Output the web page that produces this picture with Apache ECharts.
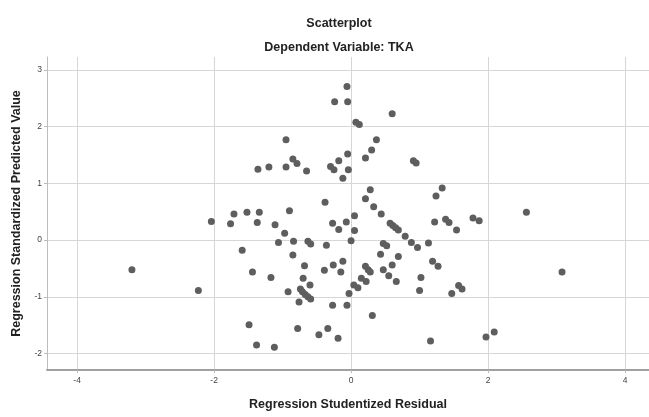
<!DOCTYPE html>
<html>
<head>
<meta charset="utf-8">
<script src="https://cdn.jsdelivr.net/npm/echarts@6/dist/echarts.min.js"></script>
<style>
html,body{margin:0;padding:0;background:#fff;}
#chart{width:649px;height:417px;}
</style>
</head>
<body>
<div id="chart"></div>
<script>
// Regression Studentized Residual (x)
const residual = [
  -3.20, -2.23, -0.38, -1.71, -1.52, -1.34, -0.90, -2.04, -1.76, -1.37,
  -1.11, -0.27, -0.07, -0.18, -0.97, -1.06, -0.84, -0.63, -0.59, -0.36,
   0.00, -1.59, -0.85, -0.68, -0.39, -0.26, -0.12, -0.15, -1.44, -1.17,
  -0.70, -0.60, -0.92, -0.74, -0.71, -0.67, -0.63, -0.59, -0.76, -0.27,
  -0.06, -1.49, -0.78, -0.34, -0.47, -0.19, -1.38, -1.12,
  -0.06, -0.24, -0.05, -0.95, -0.05, -0.85, -0.79, -1.36, -1.20, -0.95,
  -0.65, -0.30, -0.25, -0.04, -0.12, -0.18,
   0.60, 0.07, 0.12, 0.37, 0.30, 0.21, 0.91, 0.95, 0.28, 0.21, 0.33, 0.44, 1.33, 1.24,
   0.05, 0.05, 0.57, 0.61, 0.65, 0.69, 0.79, 0.88, 0.97, 1.13,
   1.22, 1.38, 1.43, 1.54, 1.78, 1.87,
   0.47, 0.52, 0.43, 0.69, 0.60, 0.47, 0.55, 0.66,
   0.21, 0.25, 0.28, 0.15, 0.22, 0.04, 0.10, -0.03, 0.31,
   1.19, 1.27, 1.02, 1.00, 1.57, 1.62, 1.47, 1.16, 1.97, 2.09,
   2.56, 3.08
];
// Regression Standardized Predicted Value (y)
const predicted = [
  -0.52, -0.89, 0.67, 0.46, 0.49, 0.49, 0.52, 0.33, 0.29, 0.31,
   0.27, 0.30, 0.32, 0.19, 0.12, -0.04, -0.02, -0.02, -0.07, -0.09,
  -0.01, -0.18, -0.26, -0.45, -0.53, -0.44, -0.37, -0.56, -0.56, -0.66,
  -0.67, -0.79, -0.91, -0.86, -0.91, -0.96, -1.00, -1.04, -1.09, -1.15,
  -1.15, -1.49, -1.56, -1.56, -1.67, -1.73, -1.85, -1.89,
   2.71, 2.44, 2.44, 1.77, 1.52, 1.43, 1.35, 1.25, 1.29, 1.29,
   1.22, 1.30, 1.24, 1.24, 1.09, 1.40,
   2.23, 2.08, 2.04, 1.77, 1.59, 1.45, 1.40, 1.36, 0.89, 0.73, 0.59, 0.46, 0.92, 0.78,
   0.43, 0.17, 0.30, 0.26, 0.22, 0.18, 0.07, -0.04, -0.13, -0.05,
   0.32, 0.37, 0.31, 0.18, 0.39, 0.34,
  -0.06, -0.10, -0.25, -0.29, -0.44, -0.52, -0.63, -0.73,
  -0.46, -0.52, -0.56, -0.67, -0.73, -0.79, -0.84, -0.94, -1.33,
  -0.37, -0.46, -0.66, -0.89, -0.80, -0.86, -0.94, -1.78, -1.71, -1.62,
   0.49, -0.56
];
const xTicks = [-4, -2, 0, 2, 4];
const yTicks = [-2, -1, 0, 1, 2, 3];
const titleText = 'Scatterplot';
const subTitleText = 'Dependent Variable: TKA';
const xName = 'Regression Studentized Residual';
const yName = 'Regression Standardized Predicted Value';

const points = residual.map((x, i) => [x, predicted[i]]);
const FONT = '"Liberation Sans", Arial, sans-serif';
const TXT = {fontFamily: FONT, fontSize: 12.5, fontWeight: 'bold', color: '#222'};

const chart = echarts.init(document.getElementById('chart'), null, {renderer: 'canvas'});
chart.setOption({
  animation: false,
  backgroundColor: '#ffffff',
  title: [
    {text: titleText, left: 334, top: 12, textAlign: 'center', textStyle: TXT},
    {text: subTitleText, left: 334, top: 36, textAlign: 'center', textStyle: TXT}
  ],
  grid: {left: 47, right: 0, top: 57, bottom: 47, containLabel: false},
  xAxis: {
    type: 'value', min: -4.44, max: 4.35,
    name: xName, nameLocation: 'middle', nameGap: 28,
    nameTextStyle: TXT,
    axisLine: {show: true, onZero: false, lineStyle: {color: '#a0a0a0', width: 2}},
    axisTick: {show: true, customValues: xTicks, length: 3, lineStyle: {color: '#bbb'}},
    axisLabel: {customValues: xTicks, fontFamily: FONT, fontSize: 8.5, color: '#444', margin: 6},
    splitLine: {show: true, lineStyle: {color: '#d6d6d6', width: 1}}
  },
  yAxis: {
    type: 'value', min: -2.29, max: 3.23,
    name: yName, nameLocation: 'middle', nameGap: 22,
    nameTextStyle: TXT,
    axisLine: {show: true, onZero: false, lineStyle: {color: '#bdbdbd', width: 1}},
    axisTick: {show: true, customValues: yTicks, length: 3, lineStyle: {color: '#bbb'}},
    axisLabel: {customValues: yTicks, fontFamily: FONT, fontSize: 8.5, color: '#444', margin: 5},
    splitLine: {show: true, lineStyle: {color: '#d6d6d6', width: 1}}
  },
  series: [{
    type: 'scatter',
    data: points,
    symbol: 'circle',
    symbolSize: 7,
    itemStyle: {color: '#5e5e5e', opacity: 1},
    silent: true
  }]
});
</script>
</body>
</html>
